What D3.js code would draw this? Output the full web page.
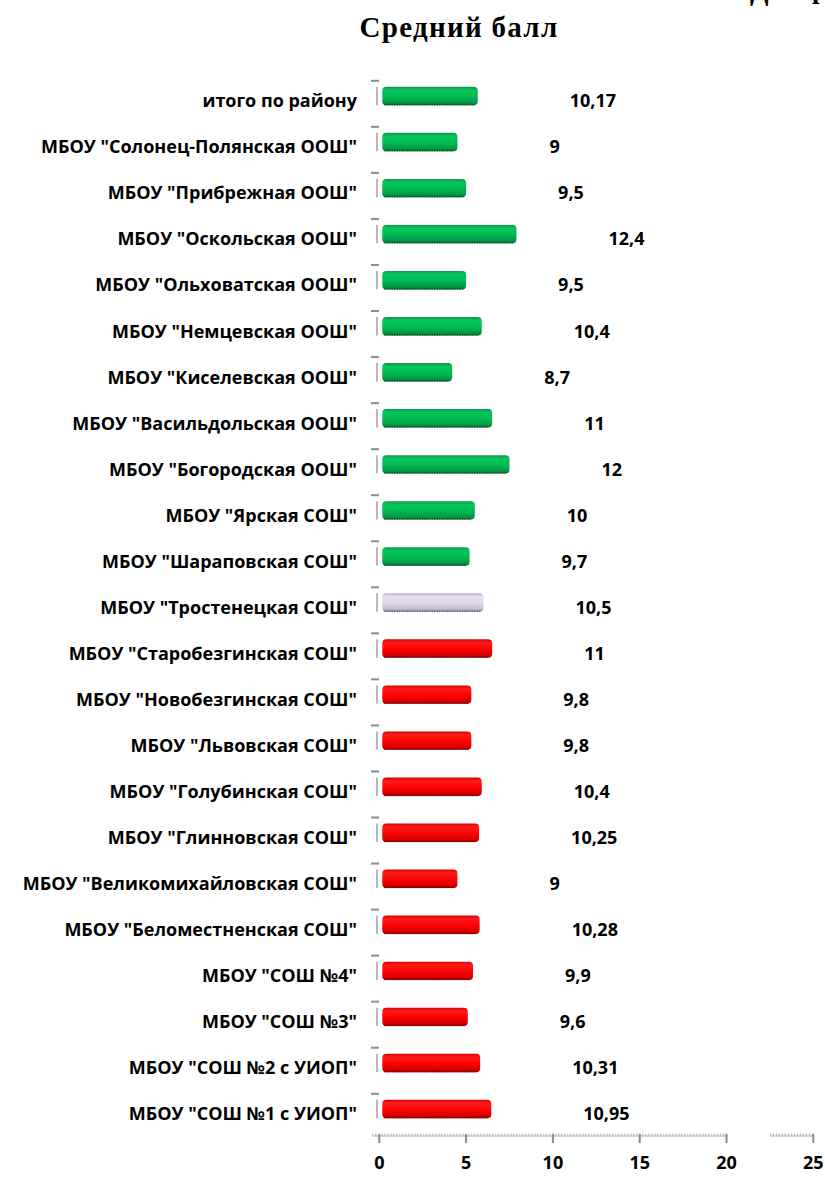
<!DOCTYPE html>
<html>
<head>
<meta charset="UTF-8">
<title>Средний балл</title>
<style>
  body { margin: 0; background: #fff; }
  text { font-family: "Open Sans", sans-serif; font-weight: bold; fill: #000; }
</style>
</head>
<body>
<script src="https://cdn.jsdelivr.net/npm/d3@7"></script>
<script>
// data, top to bottom as in the picture
var schools = [
  "итого по району",
  "МБОУ \"Солонец-Полянская ООШ\"",
  "МБОУ \"Прибрежная ООШ\"",
  "МБОУ \"Оскольская ООШ\"",
  "МБОУ \"Ольховатская ООШ\"",
  "МБОУ \"Немцевская ООШ\"",
  "МБОУ \"Киселевская ООШ\"",
  "МБОУ \"Васильдольская ООШ\"",
  "МБОУ \"Богородская ООШ\"",
  "МБОУ \"Ярская СОШ\"",
  "МБОУ \"Шараповская СОШ\"",
  "МБОУ \"Тростенецкая СОШ\"",
  "МБОУ \"Старобезгинская СОШ\"",
  "МБОУ \"Новобезгинская СОШ\"",
  "МБОУ \"Львовская СОШ\"",
  "МБОУ \"Голубинская СОШ\"",
  "МБОУ \"Глинновская СОШ\"",
  "МБОУ \"Великомихайловская СОШ\"",
  "МБОУ \"Беломестненская СОШ\"",
  "МБОУ \"СОШ №4\"",
  "МБОУ \"СОШ №3\"",
  "МБОУ \"СОШ №2 с УИОП\"",
  "МБОУ \"СОШ №1 с УИОП\""
];
var scores = [10.17, 9, 9.5, 12.4, 9.5, 10.4, 8.7, 11, 12, 10, 9.7, 10.5, 11, 9.8, 9.8, 10.4, 10.25, 9, 10.28, 9.9, 9.6, 10.31, 10.95];
var groups = ["g","g","g","g","g","g","g","g","g","g","g","l","r","r","r","r","r","r","r","r","r","r","r"];
var labels = ["10,17","9","9,5","12,4","9,5","10,4","8,7","11","12","10","9,7","10,5","11","9,8","9,8","10,4","10,25","9","10,28","9,9","9,6","10,31","10,95"];
var axisTicks = [0, 5, 10, 15, 20, 25];

var W = 825, H = 1181;
var svg = d3.select("body").append("svg")
    .attr("width", W)
    .attr("height", H);

// gradients for the 3d looking bars
var defs = svg.append("defs");
var grads = {
  g: ["#17924a", "#00c85a", "#00b853", "#009a45", "#0b6a32"],
  r: ["#d40000", "#ff1c1c", "#ff0000", "#d60000", "#9c0000"],
  l: ["#b9b2c8", "#e6e1f1", "#dcd6ea", "#c4bdd3", "#8f8a99"]
};
var offs = ["0%", "18%", "55%", "85%", "100%"];
Object.keys(grads).forEach(function(k) {
  var lg = defs.append("linearGradient").attr("id", "grad-" + k)
      .attr("x1", 0).attr("y1", 0).attr("x2", 0).attr("y2", 1);
  grads[k].forEach(function(c, i) {
    lg.append("stop").attr("offset", offs[i]).attr("stop-color", c);
  });
});
var dotColor = { g: "#0a4f25", r: "#7a0000", l: "#555" };

// axis scale 0..25; bars in the source are drawn with an offset of 4.5
var x = d3.scaleLinear().domain([0, 25]).range([379.3, 813.3]);
var xBar = d3.scaleLinear().domain([4.5, 29.5]).range([379.3, 813.3]);

var y = d3.scaleBand()
    .domain(schools)
    .range([73, 1132])
    .paddingInner(0.6)
    .paddingOuter(0.3);

// title
svg.append("text")
    .attr("x", 459)
    .attr("y", 37)
    .attr("text-anchor", "middle")
    .style("font-family", "'Liberation Serif', 'Times New Roman', serif")
    .style("font-size", "29px")
    .style("letter-spacing", "1.3px")
    .text("Средний балл");

// cut off text at top right (page text above the chart)
svg.append("text")
    .attr("x", 750).attr("y", 0)
    .style("font-family", "'Liberation Serif', serif")
    .style("font-size", "27px")
    .text("Д");
svg.append("text")
    .attr("x", 812).attr("y", -2)
    .style("font-family", "'Liberation Serif', serif")
    .style("font-size", "27px")
    .text("р");

var rows = svg.selectAll("g.row")
    .data(schools)
  .enter().append("g")
    .attr("class", "row");

// little tick dashes and axis pieces at left
rows.append("line")
    .attr("x1", 371).attr("x2", 379)
    .attr("y1", function(d) { return y(d) - 6; })
    .attr("y2", function(d) { return y(d) - 6; })
    .style("stroke", "#8c8c8c")
    .style("stroke-width", 2);
rows.append("line")
    .attr("x1", 377).attr("x2", 377)
    .attr("y1", function(d) { return y(d); })
    .attr("y2", function(d) { return y(d) + y.bandwidth(); })
    .style("stroke", "#a0a0a0")
    .style("stroke-width", 1.5);

// bars
rows.append("rect")
    .attr("x", x(0) + 3)
    .attr("y", function(d) { return y(d); })
    .attr("width", function(d, i) { return xBar(scores[i]) - x(0) - 3; })
    .attr("height", y.bandwidth())
    .attr("rx", 4)
    .style("fill", function(d, i) { return "url(#grad-" + groups[i] + ")"; });

// dotted bottom edge
rows.append("line")
    .attr("x1", x(0) + 5)
    .attr("x2", function(d, i) { return xBar(scores[i]) - 3; })
    .attr("y1", function(d) { return y(d) + y.bandwidth() - 0.5; })
    .attr("y2", function(d) { return y(d) + y.bandwidth() - 0.5; })
    .style("stroke", function(d, i) { return dotColor[groups[i]]; })
    .style("stroke-width", 1.5)
    .style("stroke-dasharray", "1,1.5");

// value labels
rows.append("text")
    .attr("x", function(d, i) { return xBar(scores[i]) + 92; })
    .attr("y", function(d) { return y(d) + y.bandwidth() / 2 + 5; })
    .attr("dy", "0.35em")
    .style("font-size", "18px")
    .text(function(d, i) { return labels[i]; });

// category labels
rows.append("text")
    .attr("x", 357)
    .attr("y", function(d) { return y(d) + y.bandwidth() / 2 + 5; })
    .attr("dy", "0.35em")
    .attr("text-anchor", "end")
    .style("font-size", "18px")
    .text(function(d) { return d; });

// bottom axis
var axisY = 1136;
var ax = svg.append("g");
[[x(0) - 7, x(20) + 1], [x(22.5), x(25)]].forEach(function(seg) {
  ax.append("line")
      .attr("x1", seg[0]).attr("x2", seg[1])
      .attr("y1", axisY).attr("y2", axisY)
      .style("stroke", "#a8a8a8").style("stroke-width", 1);
  ax.append("line")
      .attr("x1", seg[0]).attr("x2", seg[1])
      .attr("y1", axisY - 1.5).attr("y2", axisY - 1.5)
      .style("stroke", "#b0b0b0").style("stroke-width", 2)
      .style("stroke-dasharray", "1,2");
});
ax.selectAll("line.tick")
    .data(axisTicks)
  .enter().append("line")
    .attr("class", "tick")
    .attr("x1", function(d) { return x(d); })
    .attr("x2", function(d) { return x(d); })
    .attr("y1", axisY - 2)
    .attr("y2", axisY + 7)
    .style("stroke", "#8c8c8c")
    .style("stroke-width", 2);
ax.selectAll("text")
    .data(axisTicks)
  .enter().append("text")
    .attr("x", function(d) { return x(d); })
    .attr("y", 1163)
    .attr("dy", "0.35em")
    .attr("text-anchor", "middle")
    .style("font-size", "18px")
    .text(function(d) { return d; });
</script>
</body>
</html>
